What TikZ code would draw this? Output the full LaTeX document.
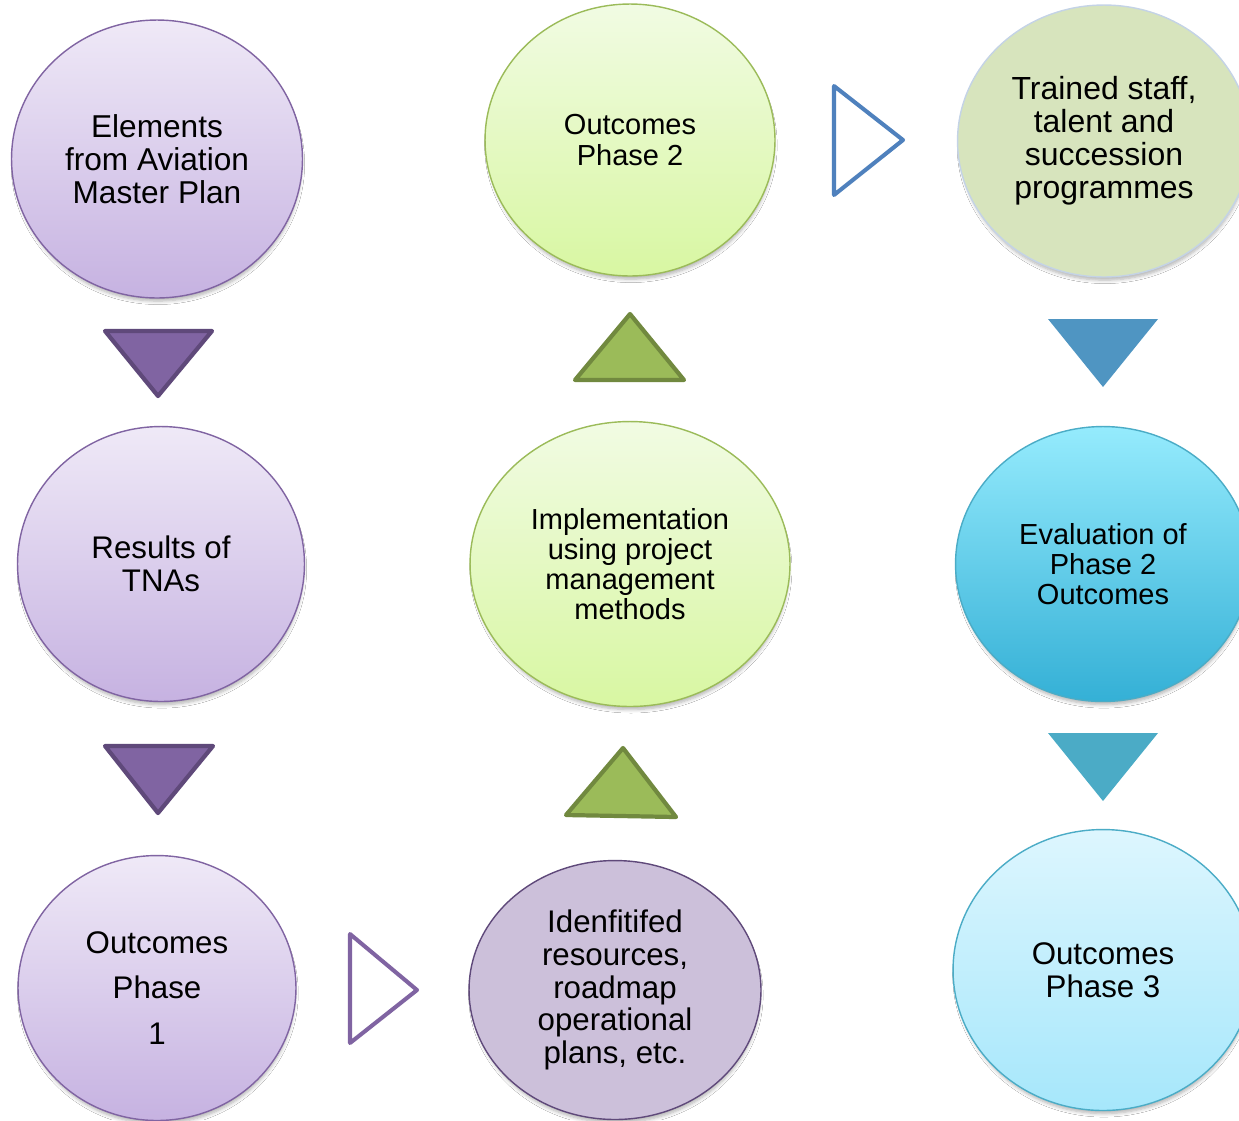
\documentclass[tikz,border=0pt]{standalone}
\usepackage{fontspec}
\setmainfont{Liberation Sans}
\usetikzlibrary{shapes.geometric,shadows.blur}
\definecolor{purpTop}{HTML}{EFE9F7}
\definecolor{purpBot}{HTML}{C6B2E1}
\definecolor{purpLine}{HTML}{8064A2}
\definecolor{purpDark}{HTML}{5F497A}
\definecolor{idenFill}{HTML}{CCC0DA}
\definecolor{greenTop}{HTML}{F1FBE3}
\definecolor{greenBot}{HTML}{D8F7A2}
\definecolor{greenLine}{HTML}{9BBB59}
\definecolor{greenDark}{HTML}{71893F}
\definecolor{trainFill}{HTML}{D7E4BD}
\definecolor{trainLine}{HTML}{C4D3E6}
\definecolor{evalTop}{HTML}{95EBFD}
\definecolor{evalBot}{HTML}{34B0D6}
\definecolor{cyanLine}{HTML}{4BACC6}
\definecolor{phThreeTop}{HTML}{DDF6FE}
\definecolor{phThreeBot}{HTML}{A6E7FB}
\definecolor{blueLine}{HTML}{4F81BD}
\definecolor{blueTri}{HTML}{4F95C2}
\definecolor{tealTri}{HTML}{4BABC6}
\tikzset{
  ell/.style={ellipse, inner sep=0pt, align=center, line width=0.8pt,
    blur shadow={shadow xshift=0.5pt, shadow yshift=-3pt, shadow scale=0.985, shadow blur steps=6, shadow blur radius=2pt, shadow opacity=30}},
  purpell/.style={ell, draw=purpLine, top color=purpTop, bottom color=purpBot},
  greenell/.style={ell, draw=greenLine, top color=greenTop, bottom color=greenBot},
  tripurp/.style={fill=purpLine, draw=purpDark, line width=2.4pt, line join=round},
  trigreen/.style={fill=greenLine, draw=greenDark, line width=2.4pt, line join=round},
  triopen/.style={line width=2.3pt, line join=round, fill=white}
}
\begin{document}
\begin{tikzpicture}[x=0.02cm, y=-0.02cm]
\useasboundingbox (0,0) rectangle (1239,1120);
\clip (0,0) rectangle (1239,1120);
\fill[white] (0,0) rectangle (1239,1120);

% left column
\node[purpell, minimum width=5.82cm, minimum height=5.56cm, font={\fontsize{18}{18.7}\selectfont}] (elem) at (157,159)
  {Elements\\from Aviation\\Master Plan};
\node[purpell, minimum width=5.74cm, minimum height=5.5cm, font={\fontsize{17.8}{18.7}\selectfont}] (tna) at (161,564)
  {Results of\\TNAs};
\node[purpell, minimum width=5.56cm, minimum height=5.3cm, font={\fontsize{17.8}{26}\selectfont}] (ph1) at (157,988)
  {Outcomes\\Phase\\1};

% middle column
\node[greenell, minimum width=5.8cm, minimum height=5.44cm, font={\fontsize{16.5}{17.5}\selectfont}] (ph2) at (630,140)
  {Outcomes\\Phase 2};
\node[greenell, minimum width=6.4cm, minimum height=5.7cm, font={\fontsize{16.5}{17}\selectfont}] (impl) at (630,564)
  {Implementation\\using project\\management\\methods};
\node[ell, draw=purpDark, fill=idenFill, minimum width=5.84cm, minimum height=5.18cm, font={\fontsize{17.8}{18.7}\selectfont}] (iden) at (615,990)
  {Idenfitifed\\resources,\\roadmap\\operational\\plans, etc.};

% right column
\node[ell, draw=trainLine, fill=trainFill, minimum width=5.86cm, minimum height=5.44cm, font={\fontsize{18.2}{18.7}\selectfont}] (train) at (1104,141)
  {Trained staff,\\talent and\\succession\\programmes};
\node[ell, draw=cyanLine, top color=evalTop, bottom color=evalBot, minimum width=5.9cm, minimum height=5.5cm, font={\fontsize{16.5}{17}\selectfont}] (eval) at (1103,564)
  {Evaluation of\\Phase 2\\Outcomes};
\node[ell, draw=cyanLine, top color=phThreeTop, bottom color=phThreeBot, minimum width=6.0cm, minimum height=5.62cm, font={\fontsize{17.8}{18.7}\selectfont}] (ph3) at (1103,970)
  {Outcomes\\Phase 3};

% arrows (triangles)
\draw[tripurp] (105,331) -- (212,331) -- (158,396) -- cycle;
\draw[tripurp] (105,746) -- (213,746) -- (158,813) -- cycle;
\draw[trigreen] (630,314) -- (684,380) -- (575,380) -- cycle;
\draw[trigreen] (623,748) -- (676,817) -- (566,815) -- cycle;
\draw[triopen, draw=blueLine] (834,86) -- (903,140) -- (834,195) -- cycle;
\draw[triopen, draw=purpLine] (350,934) -- (417,990) -- (350,1043) -- cycle;
\fill[blueTri] (1048,319) -- (1158,319) -- (1103,387) -- cycle;
\fill[tealTri] (1048,733) -- (1158,733) -- (1103,801) -- cycle;
\end{tikzpicture}
\end{document}
